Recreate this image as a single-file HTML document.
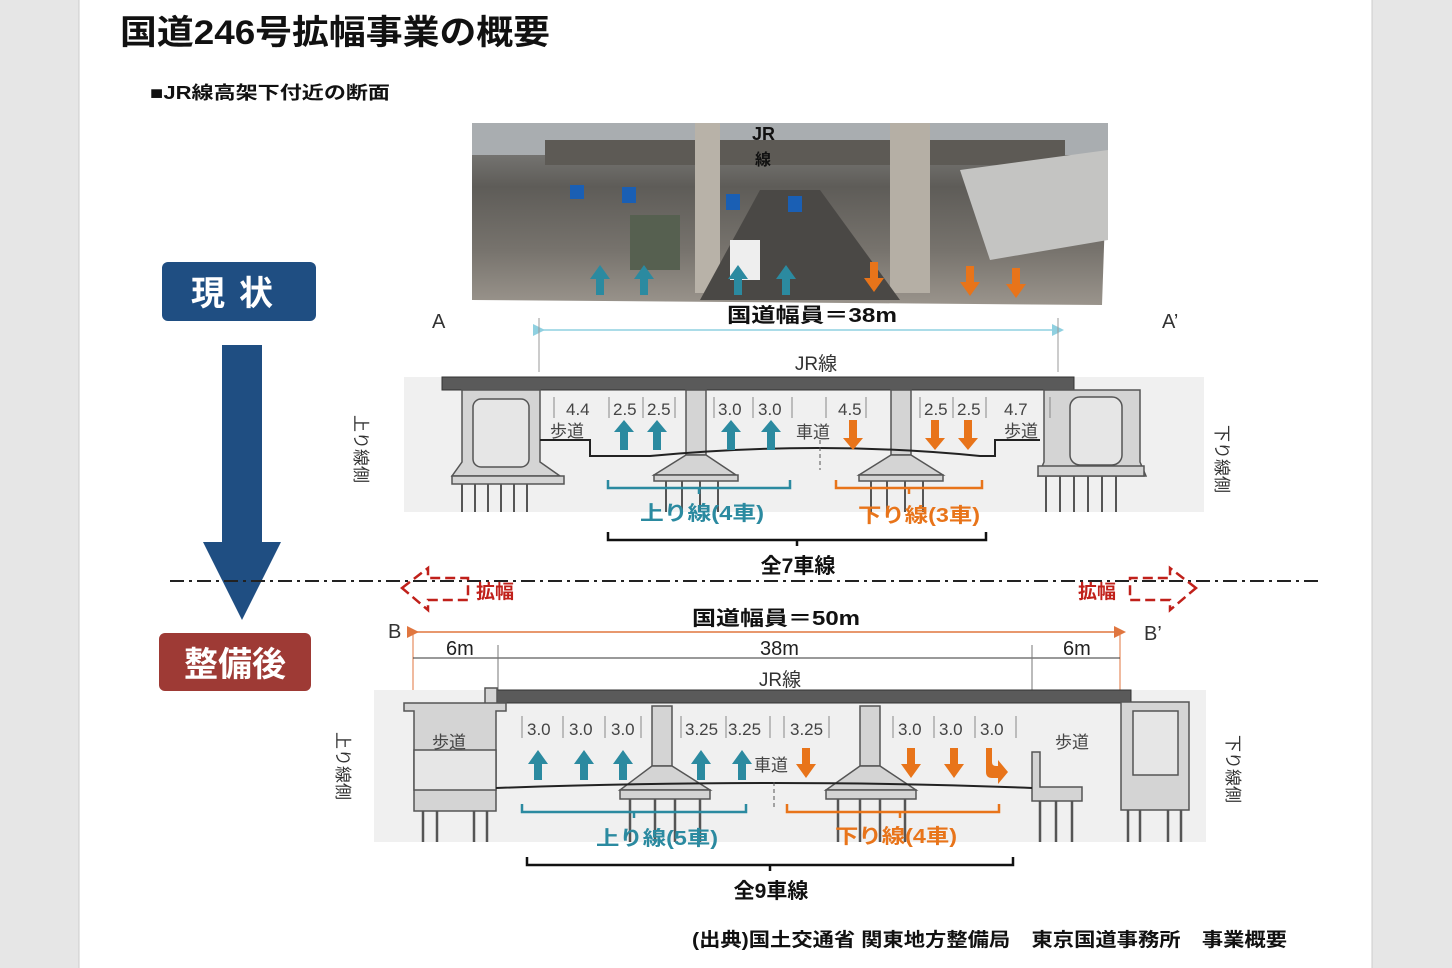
<!DOCTYPE html>
<html><head><meta charset="utf-8"><style>
html,body{margin:0;padding:0;width:1452px;height:968px;overflow:hidden;background:#fff}
svg text{font-family:"Liberation Sans","Noto Sans CJK JP",sans-serif}
</style></head><body>
<svg width="1452" height="968" viewBox="0 0 1452 968" xmlns="http://www.w3.org/2000/svg">
<defs>
<linearGradient id="ph" x1="0" y1="0" x2="0" y2="1">
<stop offset="0" stop-color="#8a8a88"/><stop offset="0.35" stop-color="#5e5c58"/><stop offset="0.7" stop-color="#77736d"/><stop offset="1" stop-color="#9a948c"/></linearGradient>
<marker id="ao" markerWidth="8" markerHeight="8" refX="4" refY="4" orient="auto"><path d="M0,0L8,4L0,8z" fill="#e0763f"/></marker>
<marker id="ab" markerWidth="8" markerHeight="8" refX="4" refY="4" orient="auto"><path d="M0,0L8,4L0,8z" fill="#8fd0e0"/></marker>
</defs>
<rect x="0" y="0" width="79" height="968" fill="#e6e6e6"/>
<rect x="1372" y="0" width="80" height="968" fill="#e6e6e6"/>
<line x1="79" y1="0" x2="79" y2="968" stroke="#ccc"/>
<line x1="1372" y1="0" x2="1372" y2="968" stroke="#ccc"/>

<text x="120" y="44" font-size="34" font-weight="bold" fill="#111" textLength="430" lengthAdjust="spacingAndGlyphs">国道246号拡幅事業の概要</text>
<text x="150" y="99" font-size="18" font-weight="bold" fill="#111" textLength="240" lengthAdjust="spacingAndGlyphs">■JR線高架下付近の断面</text>

<!-- photo -->
<polygon points="472,123 1108,130 1102,305 472,300" fill="url(#ph)"/>
<rect x="472" y="123" width="636" height="32" fill="#a9adb0"/>
<rect x="545" y="140" width="520" height="25" fill="#5d5a55"/>
<rect x="695" y="123" width="25" height="170" fill="#b8b2a8"/>
<rect x="890" y="123" width="40" height="170" fill="#b5afa5"/>
<polygon points="700,300 760,190 820,190 900,300" fill="#4a4845"/>
<rect x="730" y="240" width="30" height="40" fill="#eee"/>
<rect x="630" y="215" width="50" height="55" fill="#566050"/>
<polygon points="960,170 1108,150 1108,240 990,260" fill="#c4c4c2"/>
<rect x="570" y="185" width="14" height="14" fill="#1a5fb4"/><rect x="622" y="187" width="14" height="16" fill="#1a5fb4"/><rect x="726" y="194" width="14" height="16" fill="#1a5fb4"/><rect x="788" y="196" width="14" height="16" fill="#1a5fb4"/>
<g fill="#2b8aa0"><path d="M596,295v-16h-6l10,-14l10,14h-6v16z"/><path d="M640,295v-16h-6l10,-14l10,14h-6v16z"/><path d="M734,295v-16h-6l10,-14l10,14h-6v16z"/><path d="M782,295v-16h-6l10,-14l10,14h-6v16z"/></g>
<g fill="#e8741a"><path d="M870,262v16h-6l10,14l10,-14h-6v-16z"/><path d="M966,266v16h-6l10,14l10,-14h-6v-16z"/><path d="M1012,268v16h-6l10,14l10,-14h-6v-16z"/></g>
<text x="752" y="140" font-size="18" font-weight="bold" fill="#111">JR</text>
<text x="755" y="165" font-size="16" font-weight="bold" fill="#111">線</text>

<!-- labels top -->
<rect x="162" y="262" width="154" height="59" rx="6" fill="#1f4e82"/>
<text x="239" y="305" font-size="34" font-weight="bold" fill="#fff" text-anchor="middle" letter-spacing="14">現状</text>
<rect x="222" y="345" width="40" height="200" fill="#1f4e82"/>
<polygon points="203,542 281,542 242,620" fill="#1f4e82"/>
<rect x="159" y="633" width="152" height="58" rx="6" fill="#9e3a35"/>
<text x="235" y="676" font-size="34" font-weight="bold" fill="#fff" text-anchor="middle">整備後</text>

<text x="432" y="328" font-size="20" fill="#333">A</text>
<text x="1162" y="328" font-size="20" fill="#333">A’</text>
<line x1="539" y1="330" x2="1058" y2="330" stroke="#8fd0e0" stroke-width="1.5" marker-start="url(#ab)" marker-end="url(#ab)"/>
<line x1="539" y1="318" x2="539" y2="372" stroke="#999"/><line x1="1058" y1="318" x2="1058" y2="372" stroke="#999"/>
<text x="727" y="322" font-size="20" font-weight="bold" fill="#111" textLength="170" lengthAdjust="spacingAndGlyphs">国道幅員＝38m</text>
<text x="816" y="370" font-size="19" fill="#333" text-anchor="middle">JR線</text>

<!-- top bridge -->
<rect x="404" y="377" width="800" height="135" fill="#f0f0f0"/>
<rect x="442" y="377" width="632" height="13" fill="#5a5a5a" stroke="#333"/>
<g fill="#d4d4d4" stroke="#555" stroke-width="1.5">
<path d="M462,390h78v72l20,14h-108l10,-14z"/>
<rect x="473" y="399" width="56" height="68" rx="8" fill="#e6e6e6"/>
<path d="M1060,390h80v72l6,14h-108l6,-14v-72z"/>
<rect x="1070" y="397" width="52" height="68" rx="10" fill="#e6e6e6"/>
<rect x="686" y="390" width="20" height="65"/><path d="M686,455h20l30,20h-82z"/>
<rect x="891" y="390" width="20" height="65"/><path d="M891,455h20l32,20h-84z"/>
<rect x="452" y="476" width="112" height="8"/><rect x="1038" y="466" width="106" height="10"/>
<rect x="654" y="475" width="84" height="6"/><rect x="859" y="475" width="84" height="6"/>
</g>
<g stroke="#555" stroke-width="2">
<line x1="462" y1="484" x2="462" y2="512"/><line x1="475" y1="484" x2="475" y2="512"/><line x1="488" y1="484" x2="488" y2="512"/><line x1="501" y1="484" x2="501" y2="512"/><line x1="514" y1="484" x2="514" y2="512"/><line x1="527" y1="484" x2="527" y2="512"/>
<line x1="1046" y1="476" x2="1046" y2="512"/><line x1="1060" y1="476" x2="1060" y2="512"/><line x1="1074" y1="476" x2="1074" y2="512"/><line x1="1088" y1="476" x2="1088" y2="512"/><line x1="1102" y1="476" x2="1102" y2="512"/><line x1="1116" y1="476" x2="1116" y2="512"/>
<line x1="666" y1="481" x2="666" y2="512"/><line x1="682" y1="481" x2="682" y2="512"/><line x1="700" y1="481" x2="700" y2="512"/><line x1="718" y1="481" x2="718" y2="512"/>
<line x1="871" y1="481" x2="871" y2="512"/><line x1="887" y1="481" x2="887" y2="512"/><line x1="905" y1="481" x2="905" y2="512"/><line x1="923" y1="481" x2="923" y2="512"/>
</g>
<path d="M540,440h50v16h60 Q820,440 980,456h15v-16h45" fill="none" stroke="#222" stroke-width="2"/>
<line x1="820" y1="440" x2="820" y2="470" stroke="#555" stroke-dasharray="4,3"/>
<g font-size="17" fill="#444"><text x="566" y="415">4.4</text><text x="613" y="415">2.5</text><text x="647" y="415">2.5</text><text x="718" y="415">3.0</text><text x="758" y="415">3.0</text><text x="838" y="415">4.5</text><text x="924" y="415">2.5</text><text x="957" y="415">2.5</text><text x="1004" y="415">4.7</text>
<text x="550" y="437">歩道</text><text x="796" y="438">車道</text><text x="1004" y="437">歩道</text></g>
<g stroke="#888"><line x1="554" y1="397" x2="554" y2="418"/><line x1="609" y1="397" x2="609" y2="418"/><line x1="643" y1="397" x2="643" y2="418"/><line x1="675" y1="397" x2="675" y2="418"/><line x1="714" y1="397" x2="714" y2="418"/><line x1="753" y1="397" x2="753" y2="418"/><line x1="792" y1="397" x2="792" y2="418"/><line x1="826" y1="397" x2="826" y2="418"/><line x1="866" y1="397" x2="866" y2="418"/><line x1="920" y1="397" x2="920" y2="418"/><line x1="953" y1="397" x2="953" y2="418"/><line x1="986" y1="397" x2="986" y2="418"/><line x1="1050" y1="397" x2="1050" y2="418"/></g>
<g fill="#2b8aa0"><path d="M620,450v-18h-6l10,-12l10,12h-6v18z"/><path d="M653,450v-18h-6l10,-12l10,12h-6v18z"/><path d="M727,450v-18h-6l10,-12l10,12h-6v18z"/><path d="M767,450v-18h-6l10,-12l10,12h-6v18z"/></g>
<g fill="#e8741a"><path d="M849,420v18h-6l10,12l10,-12h-6v-18z"/><path d="M931,420v18h-6l10,12l10,-12h-6v-18z"/><path d="M964,420v18h-6l10,12l10,-12h-6v-18z"/></g>
<path d="M608,480v8h182v-8M699,488v6" fill="none" stroke="#2b8aa0" stroke-width="2.5"/>
<path d="M836,480v8h146v-8M909,488v6" fill="none" stroke="#e8741a" stroke-width="2.5"/>
<text x="640" y="520" font-size="20" font-weight="bold" fill="#2b8aa0" textLength="124" lengthAdjust="spacingAndGlyphs">上り線(4車)</text>
<text x="858" y="522" font-size="20" font-weight="bold" fill="#e8741a" textLength="122" lengthAdjust="spacingAndGlyphs">下り線(3車)</text>
<path d="M608,532v8h378v-8M797,540v6" fill="none" stroke="#111" stroke-width="2.5"/>
<text x="798" y="573" font-size="21" font-weight="bold" fill="#111" text-anchor="middle">全7車線</text>
<text transform="translate(355,415) rotate(90)" font-size="17" fill="#333">上り線側</text>
<text transform="translate(1216,425) rotate(90)" font-size="17" fill="#333">下り線側</text>

<!-- divider -->
<line x1="170" y1="581" x2="1320" y2="581" stroke="#222" stroke-width="2" stroke-dasharray="14,5,3,5"/>
<path d="M402,588 L428,568 v10 h40 v22 h-40 v10z" fill="none" stroke="#c0201a" stroke-width="2.5" stroke-dasharray="10,5"/>
<text x="476" y="598" font-size="19" font-weight="bold" fill="#c0201a">拡幅</text>
<path d="M1196,588 L1170,568 v10 h-40 v22 h40 v10z" fill="none" stroke="#c0201a" stroke-width="2.5" stroke-dasharray="10,5"/>
<text x="1078" y="598" font-size="19" font-weight="bold" fill="#c0201a">拡幅</text>

<!-- bottom dims -->
<text x="692" y="625" font-size="20" font-weight="bold" fill="#111" textLength="168" lengthAdjust="spacingAndGlyphs">国道幅員＝50m</text>
<text x="388" y="638" font-size="20" fill="#333">B</text>
<text x="1144" y="640" font-size="20" fill="#333">B’</text>
<line x1="413" y1="632" x2="1120" y2="632" stroke="#e0763f" stroke-width="1.5" marker-start="url(#ao)" marker-end="url(#ao)"/>
<line x1="413" y1="632" x2="413" y2="700" stroke="#e0763f"/><line x1="1120" y1="632" x2="1120" y2="700" stroke="#e0763f"/>
<line x1="413" y1="658" x2="1120" y2="658" stroke="#333"/>
<line x1="498" y1="645" x2="498" y2="692" stroke="#777"/><line x1="1032" y1="645" x2="1032" y2="692" stroke="#777"/>
<text x="446" y="655" font-size="20" fill="#222">6m</text><text x="760" y="655" font-size="20" fill="#222">38m</text><text x="1063" y="655" font-size="20" fill="#222">6m</text>
<text x="780" y="686" font-size="19" fill="#333" text-anchor="middle">JR線</text>

<!-- bottom bridge -->
<rect x="374" y="690" width="832" height="152" fill="#f0f0f0"/>
<rect x="497" y="690" width="634" height="13" fill="#5a5a5a" stroke="#333"/>
<g fill="#d4d4d4" stroke="#555" stroke-width="1.5">
<rect x="485" y="688" width="12" height="16"/>
<path d="M404,703h102v8h-10v100h-82v-100h-10z"/>
<rect x="414" y="750" width="82" height="40" fill="#e6e6e6"/>
<rect x="1121" y="702" width="68" height="108"/><rect x="1133" y="711" width="45" height="64" fill="#e6e6e6"/>
<path d="M1032,752h8v35h42v14h-50z"/>
<rect x="652" y="706" width="20" height="60"/><path d="M652,766h20l38,24h-90z"/>
<rect x="860" y="706" width="20" height="60"/><path d="M860,766h20l36,24h-90z"/>
<rect x="620" y="790" width="90" height="9"/><rect x="826" y="790" width="90" height="9"/>
</g>
<g stroke="#555" stroke-width="2.5">
<line x1="423" y1="811" x2="423" y2="842"/><line x1="437" y1="811" x2="437" y2="842"/><line x1="474" y1="811" x2="474" y2="842"/><line x1="487" y1="811" x2="487" y2="842"/>
<line x1="1128" y1="810" x2="1128" y2="842"/><line x1="1140" y1="810" x2="1140" y2="842"/><line x1="1168" y1="810" x2="1168" y2="842"/><line x1="1181" y1="810" x2="1181" y2="842"/>
<line x1="1040" y1="801" x2="1040" y2="842"/><line x1="1056" y1="801" x2="1056" y2="842"/><line x1="1072" y1="801" x2="1072" y2="842"/>
<line x1="630" y1="799" x2="630" y2="842"/><line x1="655" y1="799" x2="655" y2="842"/><line x1="675" y1="799" x2="675" y2="842"/><line x1="700" y1="799" x2="700" y2="842"/>
<line x1="838" y1="799" x2="838" y2="842"/><line x1="860" y1="799" x2="860" y2="842"/><line x1="880" y1="799" x2="880" y2="842"/><line x1="905" y1="799" x2="905" y2="842"/>
</g>
<path d="M496,788 Q780,778 1032,788" fill="none" stroke="#222" stroke-width="2"/>
<line x1="774" y1="782" x2="774" y2="810" stroke="#555" stroke-dasharray="4,3"/>
<g font-size="17" fill="#444"><text x="527" y="735">3.0</text><text x="569" y="735">3.0</text><text x="611" y="735">3.0</text><text x="685" y="735">3.25</text><text x="728" y="735">3.25</text><text x="790" y="735">3.25</text><text x="898" y="735">3.0</text><text x="939" y="735">3.0</text><text x="980" y="735">3.0</text>
<text x="432" y="748">歩道</text><text x="754" y="771">車道</text><text x="1055" y="748">歩道</text></g>
<g stroke="#888"><line x1="522" y1="716" x2="522" y2="738"/><line x1="563" y1="716" x2="563" y2="738"/><line x1="605" y1="716" x2="605" y2="738"/><line x1="641" y1="716" x2="641" y2="738"/><line x1="681" y1="716" x2="681" y2="738"/><line x1="726" y1="716" x2="726" y2="738"/><line x1="770" y1="716" x2="770" y2="738"/><line x1="784" y1="716" x2="784" y2="738"/><line x1="829" y1="716" x2="829" y2="738"/><line x1="893" y1="716" x2="893" y2="738"/><line x1="934" y1="716" x2="934" y2="738"/><line x1="975" y1="716" x2="975" y2="738"/><line x1="1016" y1="716" x2="1016" y2="738"/></g>
<g fill="#2b8aa0"><path d="M534,780v-16h-6l10,-14l10,14h-6v16z"/><path d="M580,780v-16h-6l10,-14l10,14h-6v16z"/><path d="M619,780v-16h-6l10,-14l10,14h-6v16z"/><path d="M697,780v-16h-6l10,-14l10,14h-6v16z"/><path d="M738,780v-16h-6l10,-14l10,14h-6v16z"/></g>
<g fill="#e8741a"><path d="M802,748v16h-6l10,14l10,-14h-6v-16z"/><path d="M907,748v16h-6l10,14l10,-14h-6v-16z"/><path d="M950,748v16h-6l10,14l10,-14h-6v-16z"/><path d="M992,748v14q0,4 4,4h2v-6l10,12l-10,12v-6h-6q-6,0-6,-6v-24z"/></g>
<path d="M522,804v8h224v-8M634,812v6" fill="none" stroke="#2b8aa0" stroke-width="2.5"/>
<path d="M787,804v8h212v-8M900,812v6" fill="none" stroke="#e8741a" stroke-width="2.5"/>
<text x="596" y="845" font-size="20" font-weight="bold" fill="#2b8aa0" textLength="122" lengthAdjust="spacingAndGlyphs">上り線(5車)</text>
<text x="835" y="843" font-size="20" font-weight="bold" fill="#e8741a" textLength="122" lengthAdjust="spacingAndGlyphs">下り線(4車)</text>
<path d="M527,857v8h486v-8M770,865v6" fill="none" stroke="#111" stroke-width="2.5"/>
<text x="771" y="898" font-size="21" font-weight="bold" fill="#111" text-anchor="middle">全9車線</text>
<text transform="translate(337,732) rotate(90)" font-size="17" fill="#333">上り線側</text>
<text transform="translate(1227,735) rotate(90)" font-size="17" fill="#333">下り線側</text>

<text x="692" y="946" font-size="19" font-weight="bold" fill="#111" textLength="595" lengthAdjust="spacingAndGlyphs">(出典)国土交通省 関東地方整備局　東京国道事務所　事業概要</text>
</svg>
</body></html>
